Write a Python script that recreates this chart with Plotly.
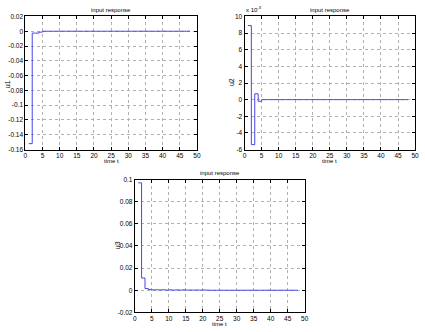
import plotly.graph_objects as go

# ---- data ----
t = list(range(1, 49))
u1 = [-0.152, -0.0025, -0.0025, -0.0012] + [0.0] * 44
u2_e3 = [8.9, -5.4, 0.7, -0.2] + [0.0] * 44   # in units of 1e-3
u3 = [0.097, 0.011, 0.0015, 0.0006, 0.0003, 0.0004, 0.0002, 0.0004, 0.0001, 0.0003,
      0.0001, 0.0003, 0.0001, 0.0003, 0.0001, 0.0002, 0.0001, 0.0002, 0.0001, 0.0002,
      0.0001] + [0.0] * 27

x_ticks = list(range(0, 51, 5))
u1_ticks = [0.02, 0, -0.02, -0.04, -0.06, -0.08, -0.1, -0.12, -0.14, -0.16]
u1_labels = ["0.02", "0", "-0.02", "-0.04", "-0.06", "-0.08", "-0.1", "-0.12", "-0.14", "-0.16"]
u2_ticks = [10, 8, 6, 4, 2, 0, -2, -4, -6]
u2_labels = ["10", "8", "6", "4", "2", "0", "-2", "-4", "-6"]
u3_ticks = [0.1, 0.08, 0.06, 0.04, 0.02, 0, -0.02]
u3_labels = ["0.1", "0.08", "0.06", "0.04", "0.02", "0", "-0.02"]

W, H = 425, 332
FONT = "Liberation Sans"
LINE = "#4646e8"

fig = go.Figure()
fig.add_trace(go.Scatter(x=t, y=u1, mode="lines", line=dict(color=LINE, width=1, shape="hv"),
                         xaxis="x", yaxis="y"))
fig.add_trace(go.Scatter(x=t, y=u2_e3, mode="lines", line=dict(color=LINE, width=1, shape="hv"),
                         xaxis="x2", yaxis="y2"))
fig.add_trace(go.Scatter(x=t, y=u3, mode="lines", line=dict(color=LINE, width=1, shape="hv"),
                         xaxis="x3", yaxis="y3"))

def px_x(p):
    return p / W

def px_y(p):
    return 1 - p / H

common_ax = dict(showline=True, linecolor="black", linewidth=1, mirror="ticks",
                 ticks="inside", ticklen=3, tickcolor="black",
                 showgrid=True, gridcolor="#b0b0b0", griddash="dot", gridwidth=1,
                 zeroline=False, tickfont=dict(family=FONT, size=6.5, color="black"))

panels = [
    # (x0, x1, ytop, ybottom) in px
    (23.7, 197.7, 12.7, 148.7),
    (246.0, 419.0, 12.7, 148.7),
    (134.7, 307.0, 179.3, 315.0),
]
yinfo = [
    ([-0.16, 0.02], u1_ticks, u1_labels),
    ([-6, 10], u2_ticks, u2_labels),
    ([-0.02, 0.1], u3_ticks, u3_labels),
]
layout = {}
for i, ((x0, x1, yt, yb), (rng, tv, tt)) in enumerate(zip(panels, yinfo)):
    sx = "" if i == 0 else str(i + 1)
    layout["xaxis" + sx] = dict(common_ax, domain=[px_x(x0), px_x(x1)], range=[0, 50],
                                tickvals=x_ticks, anchor="y" + sx)
    layout["yaxis" + sx] = dict(common_ax, domain=[px_y(yb), px_y(yt)], range=rng,
                                tickvals=tv, ticktext=tt, anchor="x" + sx)

fig.update_layout(**layout)

def note(text, cx, cy, size=6, angle=0, xanchor="center"):
    return dict(text=text, x=px_x(cx), y=px_y(cy), xref="paper", yref="paper",
                xanchor=xanchor, yanchor="middle", showarrow=False, textangle=angle,
                font=dict(family=FONT, size=size, color="black"))

ann = []
for (cx, cy) in [((23.7 + 197.7) / 2, 6), ((246 + 419) / 2, 6), ((134.7 + 307) / 2, 173)]:
    ann.append(note("input response", cx, cy))
for (cx, cy) in [((23.7 + 197.7) / 2, 160), ((246 + 419) / 2, 160), ((134.7 + 307) / 2, 326.5)]:
    ann.append(note("time t", cx, cy))
for (txt, cx, cy) in [("u1", 5, 82), ("u2", 233, 80), ("u3", 117, 246)]:
    ann.append(note(txt, cx, cy, size=7, angle=-90))
ann.append(note("x 10<sup>-3</sup>", 245, 5, xanchor="left"))

fig.update_layout(width=W, height=H, margin=dict(l=0, r=0, t=0, b=0),
                  paper_bgcolor="white", plot_bgcolor="white", showlegend=False,
                  annotations=ann)

fig.write_html("out.html")
